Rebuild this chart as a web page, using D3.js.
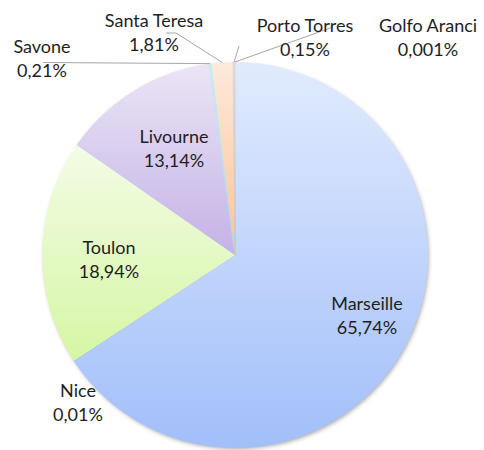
<!DOCTYPE html>
<html><head><meta charset="utf-8">
<script src="https://cdn.jsdelivr.net/npm/d3@7"></script>
<style>body{margin:0;background:#fff}svg{display:block}</style>
</head><body>
<script>
const categories = ["Marseille","Nice","Toulon","Livourne","Savone","Santa Teresa","Porto Torres","Golfo Aranci"];
const values = [65.74, 0.01, 18.94, 13.14, 0.21, 1.81, 0.15, 0.001];
const valueLabels = ["65,74%","0,01%","18,94%","13,14%","0,21%","1,81%","0,15%","0,001%"];
const colorsTop = ["#e1ebfd","#b9d3f7","#f3fce6","#ebe5f6","#c9ecf6","#fde9db","#d9d9d9","#dddddd"];
const colorsBottom = ["#a2bffa","#9dbff0","#d6f6a4","#c4b2e6","#a6d9ec","#fbc497","#bfbfbf","#c8c8c8"];

// layout (label anchor: center x, first baseline y)
const labelPos = {
  "Marseille":[367,310], "Nice":[78,397], "Toulon":[109,254], "Livourne":[174,143],
  "Savone":[42,53], "Santa Teresa":[154,27], "Porto Torres":[305,32], "Golfo Aranci":[428,32]
};
const leaders = {
  "Savone":[[43,62.5]],
  "Santa Teresa":[[166,33],[176,33]],
  "Porto Torres":[[239,46]],
  "Golfo Aranci":[[333,27]]
};

const W=484,H=450,cx=235,cy=255,R=193;
const svg=d3.select("body").append("svg").attr("width",W).attr("height",H);
const defs=svg.append("defs");
const f=defs.append("filter").attr("id","sh").attr("x","-10%").attr("y","-10%").attr("width","120%").attr("height","120%");
f.append("feDropShadow").attr("dx",1.5).attr("dy",2).attr("stdDeviation",2).attr("flood-color","#000").attr("flood-opacity",0.35);

categories.forEach((c,i)=>{
  const g=defs.append("linearGradient").attr("id","g"+i).attr("x1",0).attr("y1",0).attr("x2",0).attr("y2",1);
  g.append("stop").attr("offset","0%").attr("stop-color",colorsTop[i]);
  g.append("stop").attr("offset","100%").attr("stop-color",colorsBottom[i]);
});

const data=categories.map((c,i)=>({name:c,value:values[i],label:valueLabels[i],i}));
const pie=d3.pie().value(d=>d.value).sort(null);
const arcs=pie(data);
const arc=d3.arc().innerRadius(0).outerRadius(R);

const g=svg.append("g").attr("transform",`translate(${cx},${cy})`);
g.append("circle").attr("r",R-1).attr("fill","#b0c8f5").attr("filter","url(#sh)");
g.selectAll("path.slice").data(arcs).join("path").attr("class","slice")
  .attr("d",arc).attr("fill",d=>`url(#g${d.data.i})`)
  .attr("stroke",d=>d.data.value<1?`url(#g${d.data.i})`:"none")
  .attr("stroke-width",d=>d.data.value<1?0.8:0);

// leader lines
arcs.forEach(a=>{
  const pts=leaders[a.data.name];
  if(!pts) return;
  const m=(a.startAngle+a.endAngle)/2;
  const end=[cx+R*Math.sin(m), cy-R*Math.cos(m)];
  const line=d3.line();
  svg.append("path").attr("d",line([...pts,end])).attr("fill","none")
    .attr("stroke","#a6a6a6").attr("stroke-width",1);
});

// labels
const lbl=svg.append("g").attr("font-family","Lato, 'Noto Sans', sans-serif").attr("font-size",18).attr("fill","#1e1e1e").attr("text-anchor","middle");
data.forEach(d=>{
  const [x,y]=labelPos[d.name];
  const t=lbl.append("text").attr("x",x).attr("y",y);
  t.append("tspan").attr("x",x).text(d.name);
  t.append("tspan").attr("x",x).attr("dy",24).text(d.label);
});
</script>
</body></html>
